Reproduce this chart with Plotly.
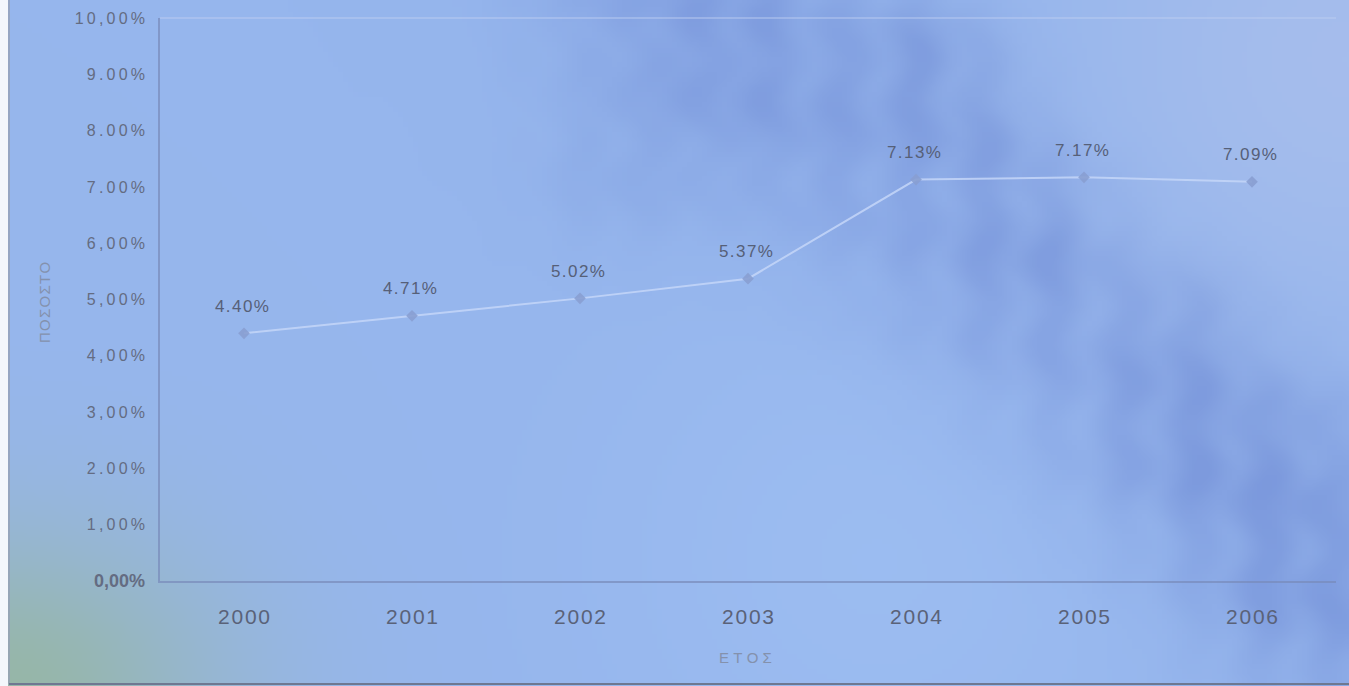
import base64
import struct
import zlib

import numpy as np
import plotly.graph_objects as go

# ---- data -------------------------------------------------------------
years = ["2000", "2001", "2002", "2003", "2004", "2005", "2006"]
rates = [4.40, 4.71, 5.02, 5.37, 7.13, 7.17, 7.09]
rate_labels = ["4.40%", "4.71%", "5.02%", "5.37%", "7.13%", "7.17%", "7.09%"]
y_tick_values = [0, 1, 2, 3, 4, 5, 6, 7, 8, 9, 10]
y_tick_text = ["0,00%", "1,00%", "2.00%", "3,00%", "4,00%", "5,00%",
               "6,00%", "7.00%", "8.00%", "9.00%", "10,00%"]
x_title = "ΕΤΟΣ"
y_title = "ΠΟΣΟΣΤΟ"

W_PX, H_PX = 1349, 686
M_L, M_R, M_T, M_B = 160, 13, 18, 105
PLOT_W, PLOT_H = W_PX - M_L - M_R, H_PX - M_T - M_B

THIN = "\u2009"
HAIR = "\u200a"


def spaced(s, gap):
    """Open up the tracking of a label by putting a narrow space between glyphs."""
    return gap.join(s)


def px_x(px):
    return (px - M_L) / PLOT_W


def px_y(py):
    return (H_PX - M_B - py) / PLOT_H


# ---- paper-like background texture (small PNG stretched over the page) --
def make_background(step=5):
    w, h = W_PX // step + 1, H_PX // step + 1
    xs = (np.arange(w) + 0.5) * step
    ys = (np.arange(h) + 0.5) * step
    X, Y = np.meshgrid(xs, ys)

    base = np.array([150.0, 182.0, 237.0])
    img = np.broadcast_to(base, (h, w, 3)).copy()

    def blend(weight, color):
        wgt = np.clip(weight, 0, 1)[..., None]
        return img * (1 - wgt) + np.array(color, dtype=float) * wgt

    # paler upper-right corner
    d_ur = np.hypot(X - 1349, Y - 60)
    img = blend(0.7 * np.exp(-(d_ur / 260.0) ** 2), (172, 192, 236))

    # slightly brighter sweep under the dark band
    d_lo = np.hypot(X - 880, Y - 560)
    img = blend(0.45 * np.exp(-(d_lo / 280.0) ** 2), (163, 196, 246))

    # mottling used to break up the darker areas
    texture = (0.7
               + 0.18 * np.sin((X + Y) / 29.0) * np.sin((X - 0.6 * Y) / 23.0)
               + 0.12 * np.sin(X / 11.0 + np.sin(Y / 13.0)))

    # darker diagonal band from top-middle to lower-right
    ax, ay, bx, by = 620.0, -40.0, 1380.0, 640.0
    dx, dy = bx - ax, by - ay
    L2 = dx * dx + dy * dy
    t = np.clip(((X - ax) * dx + (Y - ay) * dy) / L2, 0, 1)
    px, py = ax + t * dx, ay + t * dy
    dist = np.hypot(X - px, Y - py)
    band = 0.48 * np.exp(-(dist / 110.0) ** 2)
    img = blend(band * texture, (118, 146, 218))

    # heavier blotches along the band
    spots = [(920, 70, 55, 0.55), (740, 40, 85, 0.4), (1040, 250, 55, 0.45),
             (1180, 340, 50, 0.4), (1200, 440, 55, 0.4), (1300, 470, 65, 0.45),
             (1300, 590, 65, 0.4), (620, 170, 60, 0.2), (990, 150, 45, 0.35)]
    for cx, cy, r, a in spots:
        g = a * np.exp(-((X - cx) ** 2 + (Y - cy) ** 2) / (2 * r * r))
        img = blend(g * texture, (110, 138, 212))

    # greenish lower-left corner
    d_ll = np.hypot(X - 0, (Y - 700) * 1.3)
    img = blend(0.85 * np.exp(-(d_ll / 220.0) ** 2), (150, 182, 156))

    arr = np.clip(img, 0, 255).astype(np.uint8)
    raw = b"".join(b"\x00" + row.tobytes() for row in arr)

    def chunk(tag, data):
        c = struct.pack(">I", len(data)) + tag + data
        return c + struct.pack(">I", zlib.crc32(tag + data) & 0xFFFFFFFF)

    png = (b"\x89PNG\r\n\x1a\n"
           + chunk(b"IHDR", struct.pack(">IIBBBBB", w, h, 8, 2, 0, 0, 0))
           + chunk(b"IDAT", zlib.compress(raw, 9))
           + chunk(b"IEND", b""))
    return "data:image/png;base64," + base64.b64encode(png).decode()


FONT = "Liberation Sans, Arial, sans-serif"

fig = go.Figure()
fig.add_trace(go.Scatter(
    x=years,
    y=rates,
    mode="lines+markers",
    line=dict(color="rgba(196,214,248,0.85)", width=2),
    marker=dict(symbol="diamond", size=9, color="rgba(136,158,210,0.9)",
                line=dict(width=0)),
    hoverinfo="x+y",
))

# value labels above each point (category axis: position by category index)
annotations = [
    dict(x=i, y=v, xref="x", yref="y", text=spaced(lbl, HAIR),
         showarrow=False, yshift=27, xshift=-2,
         xanchor="center", yanchor="middle",
         font=dict(family=FONT, size=17, color="rgb(86,96,120)"))
    for i, (v, lbl) in enumerate(zip(rates, rate_labels))
]
# axis titles
annotations += [
    dict(x=px_x(745), y=px_y(657), xref="paper", yref="paper",
         xanchor="center", yanchor="middle",
         text=spaced(x_title, THIN + HAIR), showarrow=False,
         font=dict(family=FONT, size=15, color="rgb(132,145,172)")),
    dict(x=px_x(44), y=px_y(303), xref="paper", yref="paper",
         xanchor="center", yanchor="middle",
         text=spaced(y_title, HAIR), showarrow=False, textangle=-90,
         font=dict(family=FONT, size=15, color="rgb(132,145,172)")),
]

y_ticks_display = [
    "<b><span style='font-size:18px'>" + t + "</span></b>" if v == 0
    else spaced(t, THIN)
    for v, t in zip(y_tick_values, y_tick_text)
]

fig.update_layout(
    width=W_PX,
    height=H_PX,
    margin=dict(l=M_L, r=M_R, t=M_T, b=M_B, autoexpand=False),
    paper_bgcolor="rgb(150,182,237)",
    plot_bgcolor="rgba(0,0,0,0)",
    showlegend=False,
    font=dict(family=FONT, color="rgb(96,106,128)"),
    images=[dict(source=make_background(), xref="paper", yref="paper",
                 x=px_x(0), y=px_y(0), sizex=W_PX / PLOT_W,
                 sizey=H_PX / PLOT_H, sizing="stretch", xanchor="left",
                 yanchor="top", layer="below", opacity=1)],
    xaxis=dict(
        type="category",
        range=[-0.5, 6.5],
        tickvals=years,
        ticktext=[spaced(y, HAIR) for y in years],
        showgrid=False,
        zeroline=False,
        showline=True,
        linecolor="rgba(120,138,185,0.7)",
        linewidth=1.5,
        ticks="",
        ticklabelstandoff=16,
        tickfont=dict(size=21, color="rgb(90,98,120)"),
    ),
    yaxis=dict(
        range=[0, 10],
        tickvals=y_tick_values,
        ticktext=y_ticks_display,
        showgrid=False,
        zeroline=False,
        showline=True,
        linecolor="rgba(120,138,185,0.7)",
        linewidth=1.5,
        ticks="",
        ticklabelstandoff=10,
        tickfont=dict(size=16, color="rgb(100,108,130)"),
    ),
    annotations=annotations,
    shapes=[
        # faint frame across the top of the plot area
        dict(type="line", xref="paper", yref="paper", x0=0, x1=1, y0=1, y1=1,
             line=dict(color="rgba(190,205,240,0.6)", width=1.5)),
        # white edge strip and border lines of the sheet
        dict(type="rect", xref="paper", yref="paper",
             x0=px_x(0), x1=px_x(8), y0=px_y(H_PX), y1=px_y(0),
             fillcolor="rgb(244,247,252)", line=dict(width=0), layer="above"),
        dict(type="line", xref="paper", yref="paper",
             x0=px_x(9), x1=px_x(9), y0=px_y(684), y1=px_y(0),
             line=dict(color="rgb(150,160,182)", width=1.5)),
        dict(type="line", xref="paper", yref="paper",
             x0=px_x(9), x1=px_x(W_PX), y0=px_y(684), y1=px_y(684),
             line=dict(color="rgb(110,120,145)", width=2)),
    ],
)

fig.write_html("out.html")
